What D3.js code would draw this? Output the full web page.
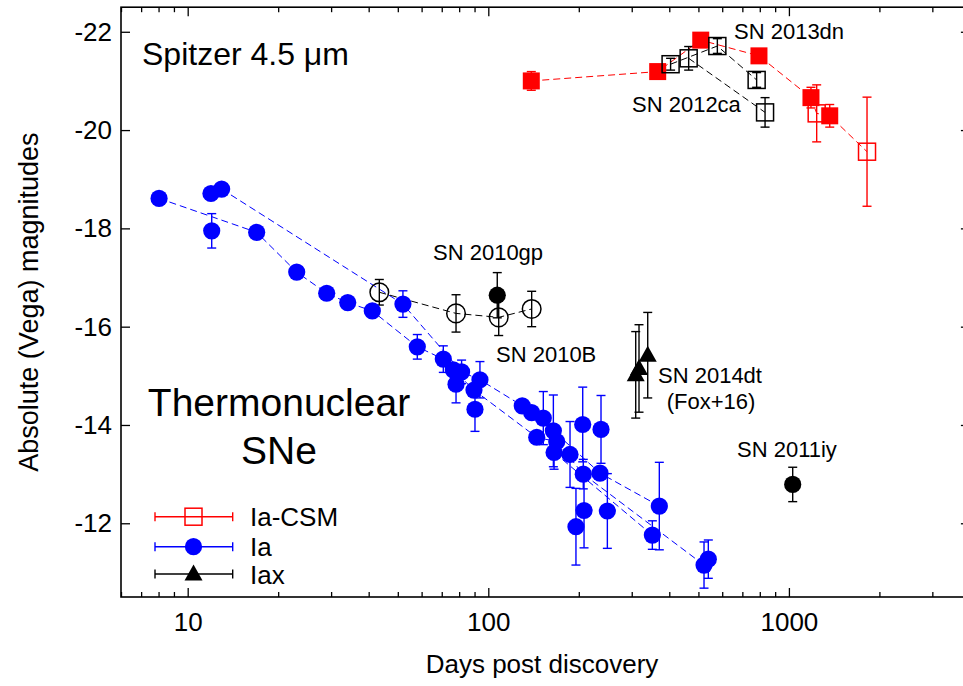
<!DOCTYPE html>
<html><head><meta charset="utf-8">
<script src="https://cdn.jsdelivr.net/npm/d3@7"></script>
<style>
html,body{margin:0;padding:0;background:#fff;}
svg{display:block;font-family:"Liberation Sans",Arial,Helvetica,sans-serif;}
</style></head>
<body>
<svg id="chart" width="963" height="686"></svg>
<script>
// ---------- DATA ----------
const xTickLabels = [10, 100, 1000];
const yTickLabels = [-22, -20, -18, -16, -14, -12];

// Ia-CSM (filled red squares)
const csmFilledDays = [139, 366, 509, 795, 1184, 1367];
const csmFilledMag  = [-21.00, -21.19, -21.83, -21.51, -20.66, -20.29];
const csmFilledErr  = [0.19, 0.12, 0.10, 0.12, 0.21, 0.23];
// Ia-CSM (open red squares)
const csmOpenDays = [1237, 1819];
const csmOpenMag  = [-20.34, -19.56];
const csmOpenErr  = [0.58, 1.11];
// SN 2013dn (open black squares)
const sn2013dnDays = [404, 578, 781];
const sn2013dnMag  = [-21.34, -21.71, -21.02];
const sn2013dnErr  = [0.12, 0.15, 0.15];
// SN 2012ca (open black squares)
const sn2012caDays = [464, 833];
const sn2012caMag  = [-21.46, -20.36];
const sn2012caErr  = [0.24, 0.30];

// Ia (blue circles) - all points
const iaDays = [8.03, 11.95, 12.97, 12.02, 16.96, 23.05, 29.0, 34.07, 41.13, 52.0,
                58.05, 70.85, 76.5, 81.5, 78.1, 93.8, 89.6, 90.3, 129.7, 139.4,
                152.4, 144.9, 164.6, 168.9, 165.5, 187, 206.1, 207, 235.3, 237.1,
                208.2, 195.7, 248.9, 370.6, 351.3, 539.4, 521.9];
const iaMag  = [-18.61, -18.71, -18.80, -17.95, -17.92, -17.11, -16.68, -16.49, -16.32, -16.46,
                -15.59, -15.34, -15.12, -15.08, -14.83, -14.92, -14.71, -14.32, -14.39, -14.25,
                -14.14, -13.75, -13.88, -13.66, -13.44, -13.40, -14.01, -13.00, -13.02, -13.91,
                -12.26, -11.93, -12.25, -12.35, -11.76, -11.27, -11.15];
const iaErr  = [0.05, 0.05, 0.05, 0.35, 0.05, 0.05, 0.05, 0.05, 0.05, 0.27,
                0.25, 0.27, 0.10, 0.24, 0.38, 0.37, 0.10, 0.45, 0.10, 0.10,
                0.54, 0.10, 0.73, 0.10, 0.34, 0.67, 0.76, 0.30, 0.10, 0.69,
                0.76, 0.78, 0.76, 0.89, 0.29, 0.39, 0.47];
// indices of Ia points joined by dashed lines (individual SNe)
const iaTrack1 = [0, 4, 5, 6, 7, 8, 10, 11, 12, 16, 21, 23, 27, 36, 35];
const iaTrack2 = [2, 9, 13, 15, 18, 19, 20, 22, 28, 33];
const iaTrack3 = [24, 34];

// SN 2010gp / 2010B (open black circles)
const openCircDays = [43.4, 78.1, 108.3, 139.4];
const openCircMag  = [-16.70, -16.27, -16.19, -16.36];
const openCircErr  = [0.26, 0.38, 0.37, 0.36];
// filled black circles
const blackDays = [107.1, 1029.5];
const blackMag  = [-16.64, -12.79];
const blackErr  = [0.46, 0.35];
// Iax SN 2014dt (Fox+16) triangles
const iaxDays = [309.3, 317.2, 339.1];
const iaxMag  = [-15.02, -15.15, -15.42];
const iaxErr  = [0.88, 0.89, 0.87];

// ---------- CHART ----------
const svg = d3.select("#chart");
const L = 121, T = 7.2, B = 597, R = 969.9;
const x = d3.scaleLog().domain([6, 4000]).range([L, R]);
const y = d3.scaleLinear().domain([-10.5, -22.5]).range([B, T]);

const RED = "#ff0000", BLUE = "#0000ff", BLACK = "#000000";
const gLines = svg.append("g"), gErr = svg.append("g"), gPts = svg.append("g");

function zip(d, m, e) { return d.map((v, i) => ({x: v, y: m[i], e: e[i]})); }
function dashed(pts, color) {
  gLines.append("path")
    .attr("d", d3.line().x(p => x(p.x)).y(p => y(p.y))(pts))
    .attr("fill", "none").attr("stroke", color).attr("stroke-width", 1)
    .attr("stroke-dasharray", "7,4");
}
function errbars(pts, color) {
  const cw = 4.5;
  pts.forEach(p => {
    const g = gErr.append("g").attr("stroke", color).attr("stroke-width", 1.4);
    const X = x(p.x), y1 = y(p.y - p.e), y2 = y(p.y + p.e);
    g.append("line").attr("x1", X).attr("x2", X).attr("y1", y1).attr("y2", y2);
    g.append("line").attr("x1", X - cw).attr("x2", X + cw).attr("y1", y1).attr("y2", y1);
    g.append("line").attr("x1", X - cw).attr("x2", X + cw).attr("y1", y2).attr("y2", y2);
  });
}
function marker(g, type, X, Y, color) {
  if (type === "circle") g.append("circle").attr("cx", X).attr("cy", Y).attr("r", 8.6).attr("fill", color);
  else if (type === "ocircle") g.append("circle").attr("cx", X).attr("cy", Y).attr("r", 9.3).attr("fill", "none").attr("stroke", color).attr("stroke-width", 1.5);
  else if (type === "square") g.append("rect").attr("x", X - 8.5).attr("y", Y - 8.5).attr("width", 17).attr("height", 17).attr("fill", color);
  else if (type === "osquare") g.append("rect").attr("x", X - 8.5).attr("y", Y - 8.5).attr("width", 17).attr("height", 17).attr("fill", "none").attr("stroke", color).attr("stroke-width", 1.5);
  else if (type === "tri") g.append("path").attr("d", `M${X},${Y - 9.5}L${X + 9},${Y + 6.5}L${X - 9},${Y + 6.5}Z`).attr("fill", color);
}
function points(pts, type, color) { pts.forEach(p => marker(gPts, type, x(p.x), y(p.y), color)); }

const ia = zip(iaDays, iaMag, iaErr);
[iaTrack1, iaTrack2, iaTrack3].forEach(t => dashed(t.map(i => ia[i]), BLUE));
const csmF = zip(csmFilledDays, csmFilledMag, csmFilledErr);
const csmO = zip(csmOpenDays, csmOpenMag, csmOpenErr);
dashed(csmF.concat(csmO).sort((a, b) => a.x - b.x), RED);
const dn = zip(sn2013dnDays, sn2013dnMag, sn2013dnErr);
const ca = zip(sn2012caDays, sn2012caMag, sn2012caErr);
dashed(dn, BLACK); dashed(ca, BLACK);
const oc = zip(openCircDays, openCircMag, openCircErr);
dashed(oc, BLACK);
const bc = zip(blackDays, blackMag, blackErr);
const iax = zip(iaxDays, iaxMag, iaxErr);

errbars(ia, BLUE); errbars(csmF, RED); errbars(csmO, RED);
errbars(dn, BLACK); errbars(ca, BLACK); errbars(oc, BLACK); errbars(bc, BLACK); errbars(iax, BLACK);

points(ia, "circle", BLUE);
points(oc, "ocircle", BLACK);
points(bc, "circle", BLACK);
points(iax, "tri", BLACK);
points(csmF, "square", RED);
points(csmO, "osquare", RED);
points(dn, "osquare", BLACK);
points(ca, "osquare", BLACK);

// ---------- AXES ----------
const minorX = [];
[1, 10, 100, 1000].forEach(dec => { for (let k = 1; k <= 9; k++) { const v = dec * k; if (v >= 6 && v <= 4000 && k !== 1) minorX.push(v); } });
const fontAx = 26;
const xAxisB = d3.axisBottom(x).tickValues(xTickLabels).tickFormat(d => String(d)).tickSize(-9).tickPadding(16);
const gx = svg.append("g").attr("transform", `translate(0,${B})`).call(xAxisB);
svg.append("g").attr("transform", `translate(0,${B})`).call(d3.axisBottom(x).tickValues(minorX).tickFormat("").tickSize(-5));
svg.append("g").attr("transform", `translate(0,${T})`).call(d3.axisTop(x).tickValues(xTickLabels).tickFormat("").tickSize(-9));
svg.append("g").attr("transform", `translate(0,${T})`).call(d3.axisTop(x).tickValues(minorX).tickFormat("").tickSize(-5));
const gy = svg.append("g").attr("transform", `translate(${L},0)`).call(d3.axisLeft(y).tickValues(yTickLabels).tickFormat(d => String(d)).tickSize(-9).tickPadding(9));
svg.append("g").attr("transform", `translate(${R},0)`).call(d3.axisRight(y).tickValues(yTickLabels).tickFormat("").tickSize(-9));
svg.selectAll(".domain").remove();
svg.selectAll(".tick line").attr("stroke", BLACK).attr("stroke-width", 1.3);
svg.selectAll(".tick text").attr("font-size", fontAx).attr("fill", BLACK).attr("font-family", "Liberation Sans, Arial, sans-serif");
svg.append("rect").attr("x", L).attr("y", T).attr("width", R - L).attr("height", B - T)
  .attr("fill", "none").attr("stroke", BLACK).attr("stroke-width", 1.6);

svg.append("text").attr("x", (L + 963) / 2).attr("y", 673).attr("text-anchor", "middle")
  .attr("font-size", 26).text("Days post discovery");
svg.append("text").attr("transform", `translate(38,${(T + B) / 2}) rotate(-90)`).attr("text-anchor", "middle")
  .attr("font-size", 27).text("Absolute (Vega) magnitudes");

// ---------- ANNOTATIONS ----------
function label(t, X, Y, size, anchor) {
  svg.append("text").attr("x", X).attr("y", Y).attr("font-size", size)
    .attr("text-anchor", anchor || "start").attr("fill", BLACK).text(t);
}
label("Spitzer 4.5 \u03bcm", 142, 65, 32);
label("Thermonuclear", 279, 416, 39, "middle");
label("SNe", 279, 464, 39, "middle");
label("SN 2013dn", 734, 39, 22);
label("SN 2012ca", 632, 112, 22);
label("SN 2010gp", 433, 260, 22);
label("SN 2010B", 496, 362, 22);
label("SN 2014dt", 658, 383, 22);
label("(Fox+16)", 711, 409, 22, "middle");
label("SN 2011iy", 737, 457, 22);

// ---------- LEGEND ----------
const legend = [
  {name: "Ia-CSM", type: "osquare", color: RED, y: 516.7},
  {name: "Ia", type: "circle", color: BLUE, y: 546.7},
  {name: "Iax", type: "tri", color: BLACK, y: 574}
];
const lg = svg.append("g");
legend.forEach(d => {
  const g = lg.append("g").attr("stroke", d.color).attr("stroke-width", 1.4);
  g.append("line").attr("x1", 155).attr("x2", 232.7).attr("y1", d.y).attr("y2", d.y);
  g.append("line").attr("x1", 155).attr("x2", 155).attr("y1", d.y - 4.5).attr("y2", d.y + 4.5);
  g.append("line").attr("x1", 232.7).attr("x2", 232.7).attr("y1", d.y - 4.5).attr("y2", d.y + 4.5);
  marker(lg, d.type, 193.5, d.y, d.color);
  lg.append("text").attr("x", 250).attr("y", d.y + 9.5).attr("font-size", 26).attr("fill", BLACK).text(d.name);
});
</script>
</body></html>
